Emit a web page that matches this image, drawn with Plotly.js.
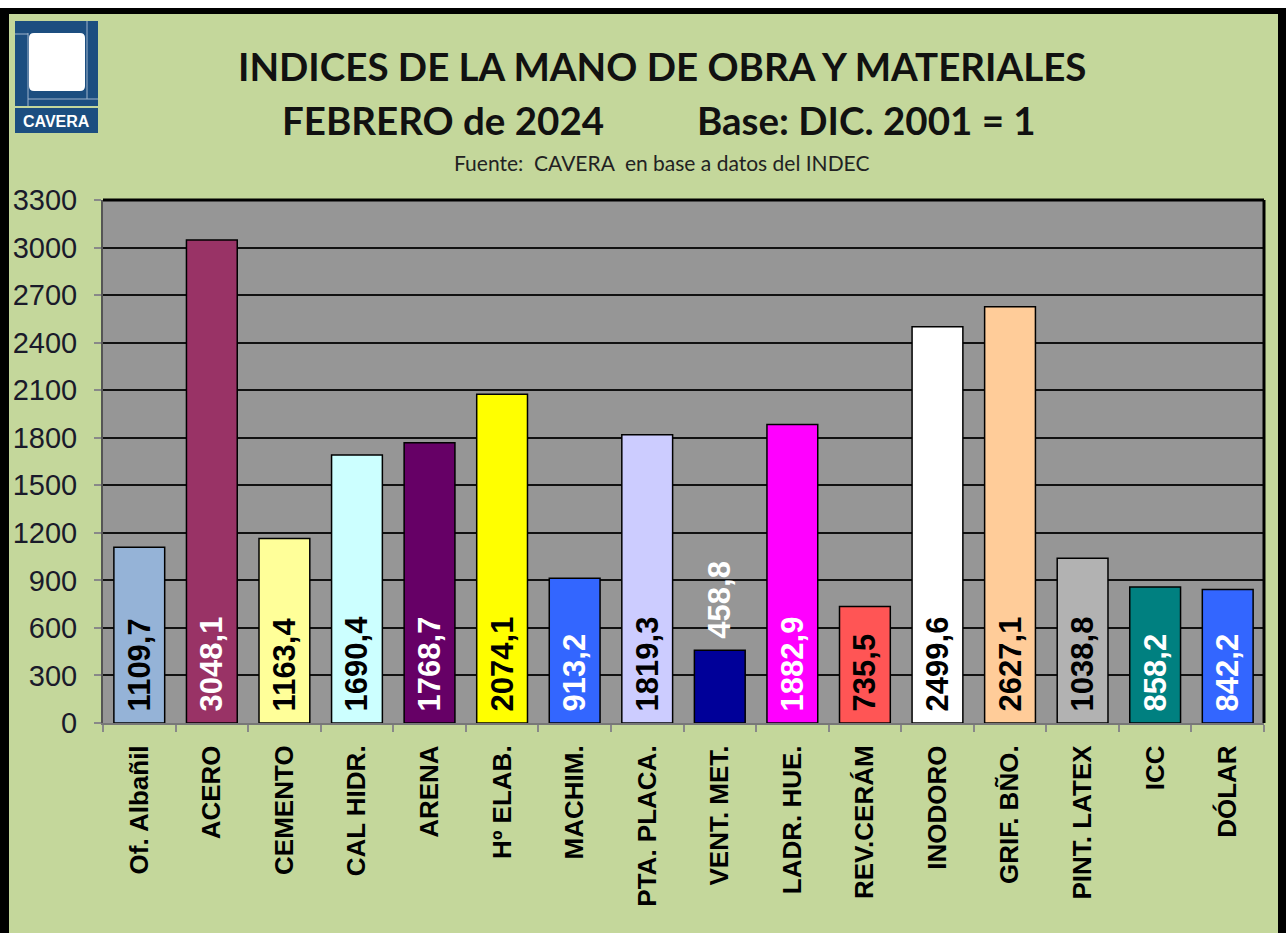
<!DOCTYPE html>
<html>
<head>
<meta charset="utf-8">
<script src="https://cdn.plot.ly/plotly-3.0.1.min.js"></script>
<style>html,body{margin:0;padding:0;background:#fff;}#chart{width:1286px;height:933px;}</style>
</head>
<body>
<div id="chart"></div>
<script>
// ---- data ----
const categories = ["Of. Albañil","ACERO","CEMENTO","CAL HIDR.","ARENA","Hº ELAB.","MACHIM.","PTA. PLACA.","VENT. MET.","LADR. HUE.","REV.CERÁM","INODORO","GRIF. BÑO.","PINT. LATEX","ICC","DÓLAR"];
const values = [1109.7,3048.1,1163.4,1690.4,1768.7,2074.1,913.2,1819.3,458.8,1882.9,735.5,2499.6,2627.1,1038.8,858.2,842.2];
const yTicks = [0,300,600,900,1200,1500,1800,2100,2400,2700,3000,3300];
const titleText = "INDICES DE LA MANO DE OBRA Y MATERIALES";
const subTitleLeft = "FEBRERO de 2024";
const subTitleRight = "Base: DIC. 2001 = 1";
const sourceText = "Fuente:&nbsp; CAVERA&nbsp; en base a datos del INDEC";

// ---- styles ----
const barColors = ["#95B3D7","#993366","#FFFF99","#CCFFFF","#660066","#FFFF00","#3366FF","#CCCCFF","#000099","#FF00FF","#FF5555","#FFFFFF","#FFCC99","#B2B2B2","#008080","#3366FF"];
const labelColors = ["#000","#fff","#000","#000","#fff","#000","#fff","#000","#fff","#fff","#000","#000","#000","#000","#fff","#fff"];
const textPos = ["inside","inside","inside","inside","inside","inside","inside","inside","outside","inside","inside","inside","inside","inside","inside","inside"];

const W = 1286, H = 933;
const L = 103, R = 1264, T = 200, B = 723;
const px = p => (p - L) / (R - L);
const py = p => (B - p) / (B - T);

const shapes = [];
function rectPx(x0, y0, x1, y1, fill, line) {
  shapes.push({type:"rect", xref:"paper", yref:"paper", x0:px(x0), x1:px(x1), y0:py(y1), y1:py(y0),
    fillcolor:fill, line:line || {width:0}, layer:"above"});
}
function linePx(x0, y0, x1, y1, color, w) {
  shapes.push({type:"line", xref:"paper", yref:"paper", x0:px(x0), x1:px(x1), y0:py(y0), y1:py(y1),
    line:{color:color, width:w}, layer:"above"});
}
function roundRectPx(x0, y0, x1, y1, r, fill) {
  const X = v => px(v), Y = v => py(v);
  const path = `M${X(x0+r)},${Y(y0)} L${X(x1-r)},${Y(y0)} Q${X(x1)},${Y(y0)} ${X(x1)},${Y(y0+r)} ` +
    `L${X(x1)},${Y(y1-r)} Q${X(x1)},${Y(y1)} ${X(x1-r)},${Y(y1)} L${X(x0+r)},${Y(y1)} Q${X(x0)},${Y(y1)} ${X(x0)},${Y(y1-r)} ` +
    `L${X(x0)},${Y(y0+r)} Q${X(x0)},${Y(y0)} ${X(x0+r)},${Y(y0)} Z`;
  shapes.push({type:"path", xref:"paper", yref:"paper", path:path, fillcolor:fill, line:{width:0}, layer:"above"});
}
// outer frame
rectPx(0, 0, W, 8, "#ffffff");
rectPx(0, 8, W, 14, "#000000");
rectPx(0, 8, 9, H, "#000000");
rectPx(1278, 8, W, H, "#000000");
// plot top/right border
shapes.push({type:"line", xref:"paper", yref:"paper", x0:0, x1:1, y0:1, y1:1, line:{color:"#000", width:3}, layer:"above"});
shapes.push({type:"line", xref:"paper", yref:"paper", x0:1, x1:1, y0:0, y1:1, line:{color:"#000", width:3}, layer:"above"});
// logo
rectPx(15, 21, 98, 133, "#1C4E80");
rectPx(15, 106, 98, 108, "#C4D79B");
linePx(87, 21, 87, 99, "#9fb4cc", 1);
linePx(28, 99, 98, 99, "#9fb4cc", 1);
linePx(28, 33, 28, 106, "#9fb4cc", 1);
linePx(15, 34, 28, 34, "#9fb4cc", 1);
roundRectPx(29, 33, 85, 91, 5, "#ffffff");

const titleFont = {family:"Lato, 'Open Sans', sans-serif", size:38.5, color:"#111", weight:"bold"};
const annotations = [
  {text:titleText, x:px(661.5), y:py(66), xref:"paper", yref:"paper", showarrow:false, xanchor:"center", yanchor:"middle", font:titleFont},
  {text:subTitleLeft, x:px(442.5), y:py(120), xref:"paper", yref:"paper", showarrow:false, xanchor:"center", yanchor:"middle", font:titleFont},
  {text:subTitleRight, x:px(866.5), y:py(120), xref:"paper", yref:"paper", showarrow:false, xanchor:"center", yanchor:"middle", font:titleFont},
  {text:sourceText, x:px(661.5), y:py(162), xref:"paper", yref:"paper", showarrow:false, xanchor:"center", yanchor:"middle",
   font:{family:"Lato, 'Open Sans', sans-serif", size:21, color:"#222"}},
  {text:"<b>CAVERA</b>", x:px(56.5), y:py(121), xref:"paper", yref:"paper", showarrow:false, xanchor:"center", yanchor:"middle",
   font:{family:"'Liberation Sans Narrow', 'Liberation Sans', Arial, sans-serif", size:16, color:"#ffffff"}}
];

const trace = {
  type:"bar",
  x: categories,
  y: values,
  marker:{color: barColors, line:{color:"#000", width:1.5}},
  text: values.map(v => v.toFixed(1).replace(".", ",")),
  texttemplate: "\u00a0%{text}",
  textposition: textPos,
  insidetextanchor: "start",
  textangle: -90,
  constraintext: "none",
  cliponaxis: false,
  textfont: {family:"'Liberation Sans', Arial, sans-serif", size:31, color: labelColors, weight:"bold"},
  hoverinfo: "x+y"
};

const layout = {
  width: W, height: H,
  margin: {l: L, r: W - R, t: T, b: H - B, pad: 0},
  paper_bgcolor: "#C4D79B",
  plot_bgcolor: "#969696",
  bargap: 0.3,
  showlegend: false,
  separators: ",.",
  xaxis: {
    type:"category",
    tickangle: -90,
    tickson: "boundaries",
    ticks: "outside", ticklen: 7, tickwidth: 2, tickcolor: "#888",
    ticklabelstandoff: 10,
    showline: true, linecolor: "#777", linewidth: 2,
    showgrid: false,
    tickfont: {family:"'Liberation Sans', Arial, sans-serif", size:26, color:"#000", weight:"bold"},
    automargin: false
  },
  yaxis: {
    range: [0, 3300],
    tickvals: yTicks,
    ticktext: yTicks.map(String),
    ticks: "outside", ticklen: 7, tickwidth: 2, tickcolor: "#888",
    ticklabelstandoff: 11,
    showline: true, linecolor: "#555", linewidth: 2,
    showgrid: true, gridcolor: "#111", gridwidth: 2,
    zeroline: false,
    tickfont: {family:"'Liberation Sans', Arial, sans-serif", size:29, color:"#1a1a2a"},
    automargin: false
  },
  shapes: shapes,
  annotations: annotations
};

Plotly.newPlot("chart", [trace], layout, {displayModeBar:false, staticPlot:true});
</script>
</body>
</html>
